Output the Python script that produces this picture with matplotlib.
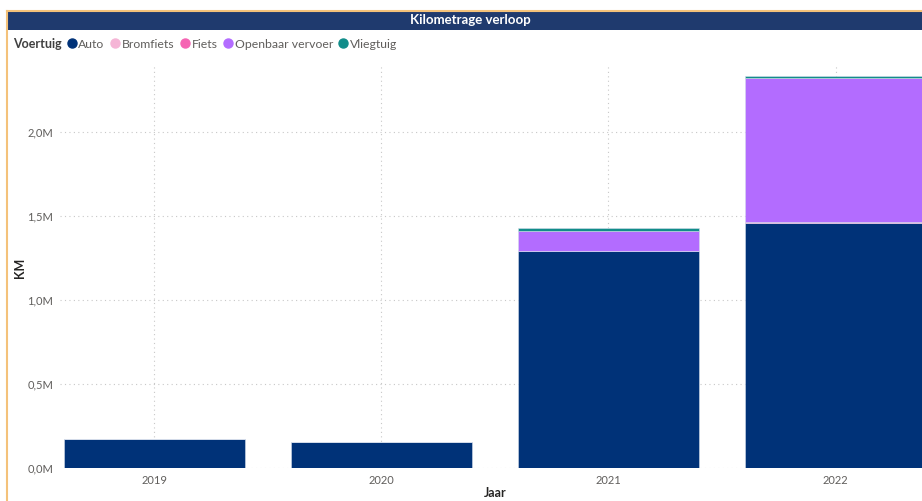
import matplotlib
matplotlib.use('Agg')
import matplotlib.pyplot as plt
from matplotlib.lines import Line2D
from matplotlib.ticker import FuncFormatter
import numpy as np

# kilometers per year and vehicle type
jaren = ['2019', '2020', '2021', '2022']
voertuigen = ['Auto', 'Bromfiets', 'Fiets', 'Openbaar vervoer', 'Vliegtuig']
auto = [173000, 155000, 1290000, 1462000]
bromfiets = [0, 0, 0, 0]
fiets = [0, 0, 3000, 1000]
openbaar = [0, 0, 120000, 862000]
vliegtuig = [0, 0, 14000, 8000]
kleuren = ['#003278', '#F5B5D6', '#F564B3', '#B36CFF', '#118D8A']

plt.rcParams['font.family'] = ['Lato', 'DejaVu Sans']

fig = plt.figure(figsize=(9.22, 5.01), dpi=100)
W, H = 922, 501

# title bar and border
fig.patches.append(plt.Rectangle((8 / W, 1 - 30 / H), 1, 18 / H, transform=fig.transFigure,
                                 facecolor='#1F3A6E', edgecolor='none'))
fig.lines.append(Line2D([7 / W, 7 / W], [0, 1 - 11 / H], transform=fig.transFigure,
                        color='#F4C27A', lw=1.5))
fig.lines.append(Line2D([7 / W, 1], [1 - 11 / H, 1 - 11 / H], transform=fig.transFigure,
                        color='#F4C27A', lw=1.5))
fig.text(470 / W, 1 - 20.5 / H, 'Kilometrage verloop', color='white', fontsize=9.5,
         fontweight='bold', ha='center', va='center')

ax = fig.add_axes([60 / W, 33 / H, (W - 60) / W, (468 - 65) / H])
x = np.arange(len(jaren))
reeksen = [auto, bromfiets, fiets, openbaar, vliegtuig]
bottom = np.zeros(len(jaren))
for naam, waarden, kleur in zip(voertuigen, reeksen, kleuren):
    ax.bar(x, waarden, width=0.8, bottom=bottom, color=kleur, edgecolor='#D5DDEB',
           linewidth=0.4, label=naam, zorder=3)
    bottom += np.array(waarden)

ax.set_xlim(-0.416, 3.381)
ax.set_ylim(0, 2.4e6)
ax.set_yticks([0, 0.5e6, 1.0e6, 1.5e6, 2.0e6])
ax.yaxis.set_major_formatter(FuncFormatter(lambda v, p: ('%.1fM' % (v / 1e6)).replace('.', ',')))
ax.set_xticks(x)
ax.set_xticklabels(jaren)
ax.tick_params(length=0, labelsize=8, colors='#605E5C', pad=5)
ax.grid(True, color='#C8C8C8', linestyle=(0, (1, 3)), linewidth=0.8, zorder=0)
for s in ax.spines.values():
    s.set_visible(False)

fig.text(20 / W, 1 - 268 / H, 'KM', rotation=90, fontsize=9, fontweight='bold',
         color='#252423', ha='center', va='center')
fig.text(495 / W, 1 - 493 / H, 'Jaar', fontsize=9, fontweight='bold',
         color='#252423', ha='center', va='center')

# legend
fig.text(13 / W, 1 - 44 / H, 'Voertuig', fontsize=9, fontweight='bold',
         color='#404040', ha='left', va='center')
handles = [Line2D([], [], marker='o', linestyle='none', markersize=6.5, color=k) for k in kleuren]
fig.legend(handles, voertuigen, loc='center left', bbox_to_anchor=(68 / W, 1 - 44 / H),
           ncol=5, frameon=False, fontsize=8.8, handletextpad=0.25, columnspacing=0.55,
           borderpad=0, borderaxespad=0, handlelength=0.6, labelcolor='#605E5C')

fig.savefig('out.png', dpi=100)
